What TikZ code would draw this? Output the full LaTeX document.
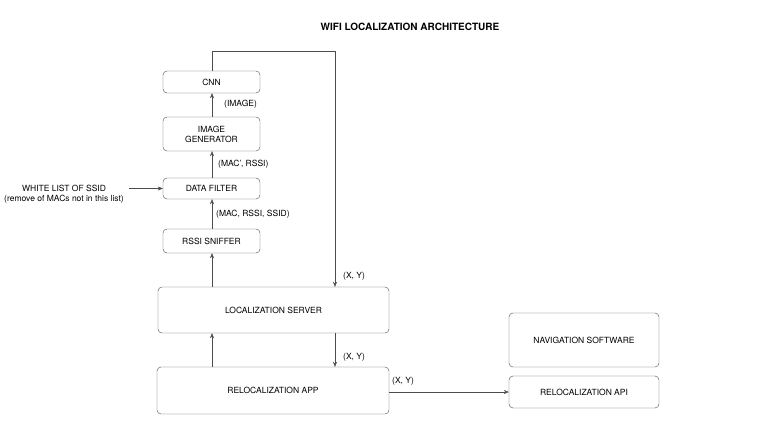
\documentclass[tikz,border=0pt]{standalone}
\usepackage{fontspec}
\setmainfont{TeX Gyre Heros}
\usetikzlibrary{arrows.meta}
\begin{document}
\begin{tikzpicture}[x=1pt,y=-1pt,
  box/.style={draw=black!70,rounded corners=4pt,inner sep=0pt,align=center,font=\fontsize{8.5}{10}\selectfont},
  lbl/.style={font=\fontsize{8.5}{10}\selectfont,inner sep=1pt},
  arr/.style={draw=black!70,-{Stealth[length=5pt,width=4pt]}}]
\useasboundingbox (0,0) rectangle (768,433);
\node[font=\bfseries\fontsize{10}{12}\selectfont] (title) at (410,27) {WIFI LOCALIZATION ARCHITECTURE};
\node[box,minimum width=97pt,minimum height=22pt] (cnn) at (211.5,82) {CNN};
\node[box,minimum width=97pt,minimum height=34pt] (img) at (211.5,134) {IMAGE\\GENERATOR};
\node[box,minimum width=97pt,minimum height=21pt] (filt) at (211.5,188.5) {DATA FILTER};
\node[box,minimum width=97pt,minimum height=24pt] (sniff) at (211.5,241) {RSSI SNIFFER};
\node[box,minimum width=231pt,minimum height=46pt] (srv) at (273.5,310) {LOCALIZATION SERVER};
\node[box,minimum width=232pt,minimum height=47pt] (app) at (273,390.5) {RELOCALIZATION APP};
\node[box,minimum width=150pt,minimum height=54pt] (nav) at (584,340) {NAVIGATION SOFTWARE};
\node[box,minimum width=150pt,minimum height=32pt] (api) at (584,392) {RELOCALIZATION API};
\node[lbl,align=center,anchor=east] (wl) at (125,194) {WHITE LIST OF SSID\\(remove of MACs not in this list)};
\coordinate (wlend) at (129,188.5);
\draw[arr] (wlend) -- (filt.west);
\draw[arr] (212,117) coordinate (a1) -- (a1 |- cnn.south);
\draw[arr] (212,178) coordinate (a2) -- (a2 |- img.south);
\draw[arr] (212,229) coordinate (a3) -- (a3 |- filt.south);
\draw[arr] (212,287) coordinate (a4) -- (a4 |- sniff.south);
\draw[arr] (212,367) coordinate (a5) -- (a5 |- srv.south);
\draw[arr] (212,71) coordinate (c1) -- (212,51) -- (335,51) coordinate (c2) -- (c2 |- srv.north);
\draw[arr] (335,333) coordinate (c3) -- (c3 |- app.north);
\draw[arr] (app.east |- api.west) -- (api.west);
\node[lbl,anchor=west] (l1) at (223,104) {(IMAGE)};
\node[lbl,anchor=west] (l2) at (217,164) {(MAC', RSSI)};
\node[lbl,anchor=west] (l3) at (215,214) {(MAC, RSSI, SSID)};
\node[lbl,anchor=west] (l4) at (342,276) {(X, Y)};
\node[lbl,anchor=west] (l5) at (342,357) {(X, Y)};
\node[lbl,anchor=west] (l6) at (391,381) {(X, Y)};
\end{tikzpicture}
\end{document}
